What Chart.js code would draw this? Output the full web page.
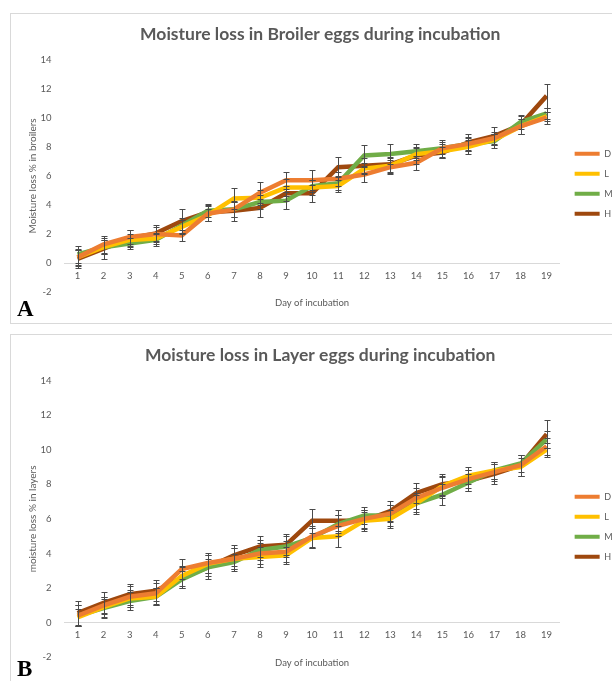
<!DOCTYPE html>
<html>
<head>
<meta charset="utf-8">
<script src="https://cdn.jsdelivr.net/npm/chart.js@4.4.1/dist/chart.umd.min.js"></script>
<style>
  body { margin: 0; background: #fff; width: 612px; height: 681px; overflow: hidden; position: relative; }
  .box { position: absolute; border: 1px solid #d9d9d9; }
  #boxA { left: 10px; top: 13px; width: 610px; height: 309px; }
  #boxB { left: 10px; top: 334px; width: 610px; height: 360px; }
  canvas { position: absolute; left: 22px; }
  #chartA { top: 14px; }
  #chartB { top: 335px; }
  .tag { position: absolute; font: bold 23px "Liberation Serif", serif; color: #000; }
</style>
</head>
<body>
<div class="box" id="boxA"></div>
<div class="box" id="boxB"></div>
<canvas id="chartA" width="590" height="297"></canvas>
<canvas id="chartB" width="590" height="341"></canvas>
<div class="tag" style="left:17px;top:296px">A</div>
<div class="tag" style="left:17px;top:656px">B</div>
<script>
const days = ["1","2","3","4","5","6","7","8","9","10","11","12","13","14","15","16","17","18","19"];
const seriesNames = ["D", "L", "M", "H"];
const seriesColors = ["#ED7D31", "#FFC000", "#70AD47", "#9E480E"];

// A - broiler eggs
const broilerD = [0.4, 1.3, 1.8, 2.0, 1.9, 3.4, 3.7, 4.85, 5.7, 5.7, 5.8, 6.1, 6.6, 6.9, 7.9, 8.2, 8.6, 9.4, 10.0];
const broilerL = [0.4, 1.1, 1.6, 1.7, 2.5, 3.3, 4.45, 4.5, 5.2, 5.2, 5.3, 6.5, 6.7, 7.5, 7.7, 8.0, 8.5, 9.4, 10.1];
const broilerM = [0.6, 1.1, 1.35, 1.6, 2.6, 3.6, 3.7, 4.2, 4.3, 5.3, 5.5, 7.4, 7.5, 7.7, 7.9, 8.2, 8.4, 9.7, 10.3];
const broilerH = [0.3, 1.0, 1.7, 2.05, 2.9, 3.5, 3.6, 3.8, 4.8, 4.8, 6.6, 6.7, 6.8, 7.4, 7.6, 8.3, 8.75, 9.5, 11.5];
const broilerErrD = [0.6, 0.6, 0.5, 0.5, 0.4, 0.5, 0.5, 0.7, 0.6, 0.7, 0.5, 0.5, 0.5, 0.5, 0.4, 0.4, 0.4, 0.5, 0.4];
const broilerErrL = [0.5, 0.5, 0.4, 0.4, 0.5, 0.4, 0.7, 0.5, 0.6, 0.5, 0.4, 0.4, 0.5, 0.4, 0.5, 0.5, 0.4, 0.5, 0.3];
const broilerErrM = [0.6, 0.5, 0.4, 0.4, 0.5, 0.4, 0.5, 0.5, 0.6, 0.4, 0.5, 0.7, 0.7, 0.5, 0.6, 0.5, 0.5, 0.5, 0.4];
const broilerErrH = [0.6, 0.7, 0.6, 0.6, 0.8, 0.6, 0.7, 0.6, 0.5, 0.6, 0.7, 0.5, 0.5, 0.6, 0.4, 0.6, 0.6, 0.6, 0.8];

// B - layer eggs
const layerD = [0.4, 1.0, 1.5, 1.7, 3.1, 3.45, 3.7, 4.0, 4.1, 5.0, 5.6, 6.0, 6.3, 7.2, 7.8, 8.3, 8.7, 9.1, 10.2];
const layerL = [0.3, 0.9, 1.4, 1.5, 2.7, 3.4, 3.7, 3.8, 3.9, 4.9, 5.0, 5.9, 6.0, 6.9, 7.9, 8.5, 8.8, 9.0, 10.0];
const layerM = [0.4, 0.85, 1.25, 1.5, 2.5, 3.2, 3.5, 4.2, 4.4, 4.9, 5.7, 6.2, 6.2, 6.9, 7.4, 8.1, 8.8, 9.2, 10.6];
const layerH = [0.55, 1.15, 1.65, 1.85, 2.6, 3.2, 3.9, 4.4, 4.5, 5.9, 5.9, 5.9, 6.45, 7.5, 8.0, 8.2, 8.6, 9.1, 10.9];
const layerErrD = [0.6, 0.5, 0.6, 0.6, 0.6, 0.6, 0.6, 0.6, 0.6, 0.6, 0.6, 0.5, 0.5, 0.6, 0.6, 0.5, 0.5, 0.6, 0.5];
const layerErrL = [0.5, 0.6, 0.5, 0.5, 0.6, 0.5, 0.6, 0.6, 0.5, 0.6, 0.6, 0.5, 0.5, 0.5, 0.6, 0.5, 0.5, 0.5, 0.4];
const layerErrM = [0.6, 0.5, 0.5, 0.5, 0.5, 0.5, 0.5, 0.6, 0.6, 0.6, 0.5, 0.5, 0.6, 0.6, 0.6, 0.5, 0.5, 0.5, 0.5];
const layerErrH = [0.7, 0.6, 0.6, 0.6, 0.6, 0.7, 0.6, 0.6, 0.6, 0.7, 0.6, 0.6, 0.6, 0.6, 0.6, 0.6, 0.6, 0.6, 0.8];

const yTicksMin = -2, yTicksMax = 14, yTicksStep = 2;

const grey = "#595959";

// simple error bars with caps, drawn through the y scale
const errorBars = {
  id: "errorBars",
  afterDatasetsDraw(chart) {
    const ctx = chart.ctx, y = chart.scales.y;
    ctx.save();
    ctx.strokeStyle = "#4a4a4a";
    ctx.lineWidth = 1;
    chart.data.datasets.forEach((ds, i) => {
      chart.getDatasetMeta(i).data.forEach((pt, j) => {
        const v = ds.data[j], e = ds.err[j];
        const top = Math.round(y.getPixelForValue(v + e)) + 0.5;
        const bot = Math.round(y.getPixelForValue(v - e)) + 0.5;
        const x = Math.round(pt.x) + 0.5;
        ctx.beginPath();
        ctx.moveTo(x, top); ctx.lineTo(x, bot);
        ctx.moveTo(x - 3, top); ctx.lineTo(x + 3, top);
        ctx.moveTo(x - 3, bot); ctx.lineTo(x + 3, bot);
        ctx.stroke();
      });
    });
    ctx.restore();
  }
};

// push the legend a little to the right, like the Excel one
const nudgeLegend = {
  id: "nudgeLegend",
  afterLayout(chart) {
    chart.legend.left += 4;
    chart.legend.right += 4;
  }
};

function makeChart(id, title, yTitle, values, errs) {
  const datasets = seriesNames.map((name, i) => ({
    label: name,
    data: values[i],
    err: errs[i],
    borderColor: seriesColors[i],
    backgroundColor: seriesColors[i],
    borderWidth: 4.5,
    pointRadius: 0,
    tension: 0,
    fill: false
  }));
  return new Chart(document.getElementById(id), {
    type: "line",
    data: { labels: days, datasets: datasets },
    plugins: [errorBars, nudgeLegend],
    options: {
      responsive: false,
      animation: false,
      layout: { padding: { left: 0, right: -6.5, top: 0, bottom: 0 } },
      scales: {
        x: {
          type: "category",
          offset: true,
          position: { y: 0 },
          grid: { display: false, drawTicks: false },
          border: { display: true, color: "#d9d9d9", width: 1 },
          ticks: { color: grey, font: { family: "Lato", size: 9.5 }, padding: 7, maxRotation: 0 },
          title: { display: true, text: "Day of incubation", color: grey,
                   font: { family: "Lato", size: 9.5 }, padding: { top: 9, bottom: 0 } }
        },
        y: {
          min: yTicksMin, max: yTicksMax,
          grid: { display: false, drawTicks: false },
          border: { display: false },
          ticks: { stepSize: yTicksStep, color: grey, font: { family: "Lato", size: 9.5 }, padding: 13 },
          title: { display: true, text: yTitle, color: grey,
                   font: { family: "Lato", size: 10 }, padding: { top: 4.5, bottom: -11 } }
        }
      },
      plugins: {
        title: { display: true, text: title, color: grey,
                 font: { family: "Lato", size: 17.5, weight: "bold" }, padding: { top: 10, bottom: 14.5 } },
        legend: {
          position: "right",
          fullSize: false,
          align: "center",
          title: { display: true, text: "", font: { size: 9 }, padding: { top: 0, bottom: 5 } },
          labels: {
            boxWidth: 25, boxHeight: 4, padding: 11, color: grey,
            font: { family: "Lato", size: 9 },
            generateLabels: chart => Chart.defaults.plugins.legend.labels.generateLabels(chart)
              .map(l => Object.assign(l, { lineWidth: 0 }))
          }
        },
        tooltip: { enabled: false }
      }
    }
  });
}

makeChart("chartA", "Moisture loss in Broiler eggs during incubation", "Moisture loss % in broilers",
  [broilerD, broilerL, broilerM, broilerH], [broilerErrD, broilerErrL, broilerErrM, broilerErrH]);
makeChart("chartB", "Moisture loss in Layer eggs during incubation", "moisture loss % in layers",
  [layerD, layerL, layerM, layerH], [layerErrD, layerErrL, layerErrM, layerErrH]);
</script>
</body>
</html>
